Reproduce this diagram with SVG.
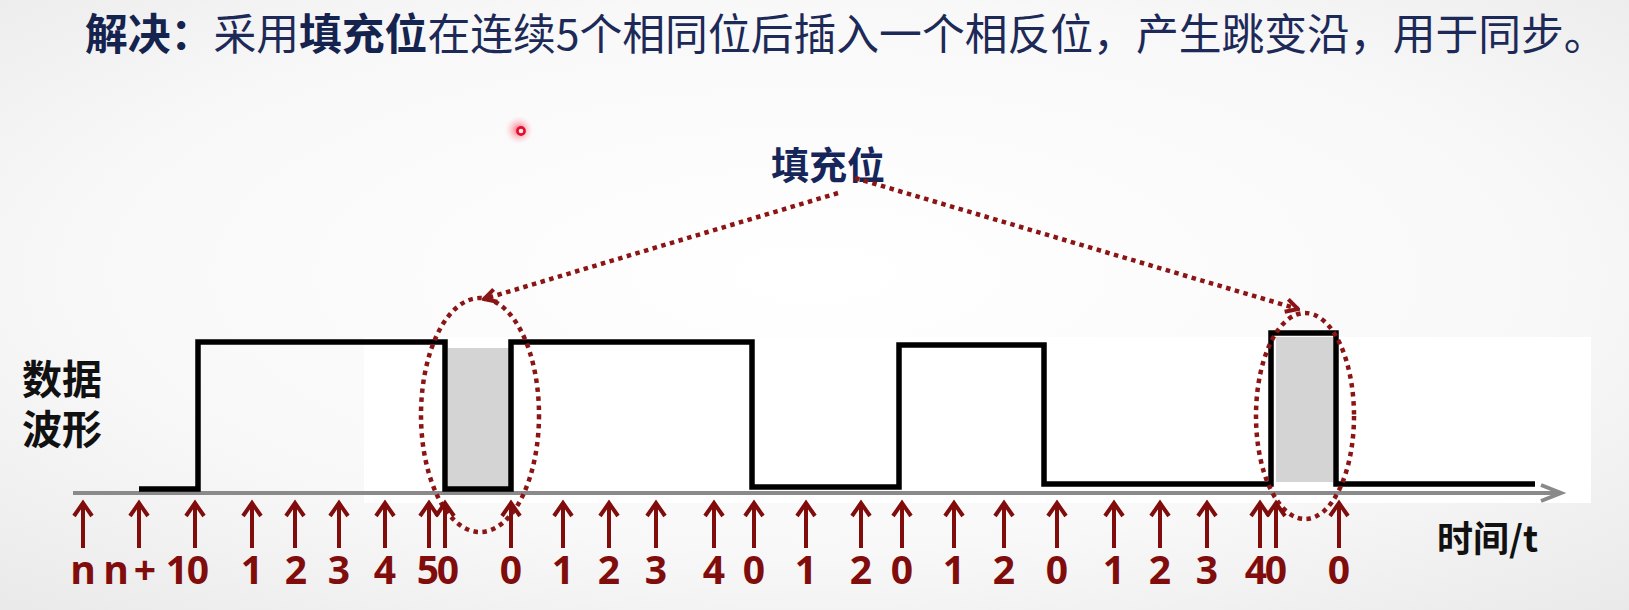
<svg xmlns="http://www.w3.org/2000/svg" xmlns:xlink="http://www.w3.org/1999/xlink" width="1629" height="610" viewBox="0 0 1629 610">
<style>
.title{font-family:"Noto Sans CJK SC","Noto Sans",sans-serif;font-size:42.8px;fill:#1d2a58}
.b{font-weight:700;fill:#15234f}
.lbl{font-family:"Noto Sans CJK SC","Noto Sans",sans-serif;font-weight:700;fill:#111}
.num{font-family:"Open Sans","Noto Sans",sans-serif;font-weight:700;font-size:39px;fill:#800c0c;text-anchor:middle}
.tick{fill:none;stroke:#800c0c;stroke-width:4;stroke-linecap:butt;stroke-linejoin:miter}
.wave{fill:none;stroke:#000;stroke-width:5.5;stroke-linejoin:miter}
.stuff{fill:#d4d4d4}
.dot{fill:none;stroke:#8b1414;stroke-width:4.5;stroke-dasharray:4.5 4.5}
.axis{fill:none;stroke:#8a8a8a;stroke-width:4}
</style>
<defs>
<radialGradient id="bg" cx="50%" cy="45%" r="75%">
<stop offset="0" stop-color="#ffffff"/>
<stop offset="0.6" stop-color="#f8f8f8"/>
<stop offset="1" stop-color="#e9e9e9"/>
</radialGradient>
<radialGradient id="glow">
<stop offset="0" stop-color="#ff3050" stop-opacity="0.9"/>
<stop offset="0.45" stop-color="#ff8090" stop-opacity="0.5"/>
<stop offset="1" stop-color="#ffc0c8" stop-opacity="0"/>
</radialGradient>
<path id="tk" class="tick" d="M0,0 V45 M-9,13 L0,0 L9,13"/>
<marker id="ah" viewBox="0 0 16 16" refX="14" refY="8" markerWidth="16" markerHeight="16" markerUnits="userSpaceOnUse" orient="auto">
<path d="M2,1.5 L14,8 L2,14.5" fill="none" stroke="#8b1414" stroke-width="4"/>
</marker>
</defs>
<rect width="1629" height="610" fill="url(#bg)"/>
<rect x="364" y="337" width="1227" height="166" fill="#fff"/>

<g id="title">
<text class="title" x="85" y="50"><tspan class="b">解决：</tspan>采用<tspan class="b">填充位</tspan>在连续5个相同位后插入一个相反位，产生跳变沿，用于同步。</text>
</g>

<g id="pointer">
<circle cx="519" cy="130" r="14" fill="url(#glow)"/>
<circle cx="521" cy="131" r="3.6" fill="#ffe4e8" stroke="#e0102c" stroke-width="2.6"/>
</g>

<g id="label-waveform">
<text class="lbl" font-size="40"><tspan x="22" y="394">数据</tspan><tspan x="22" y="444">波形</tspan></text>
</g>

<g id="label-fill">
<text class="lbl" x="771" y="179" font-size="38" style="fill:#17265a">填充位</text>
</g>

<g id="label-time">
<text class="lbl" x="1437" y="552" font-size="36">时间/t</text>
</g>

<g id="axis">
<path class="axis" d="M73,493 H1560"/>
<path class="axis" d="M1541,485 L1561,493 L1541,501"/>
</g>

<g id="stuffed-bit-1">
<rect class="stuff" x="448" y="348" width="61" height="140"/>
</g>
<g id="stuffed-bit-2">
<rect class="stuff" x="1276" y="337" width="57" height="145"/>
</g>

<g id="waveform">
<path class="wave" d="M139,489 H198 V342 H445 V489 H511 V342 H752 V487 H899 V345 H1044 V484 H1271 V333 H1336 V484 H1535"/>
</g>

<g id="ellipse-1">
<ellipse class="dot" cx="480" cy="415" rx="59" ry="117"/>
</g>
<g id="ellipse-2">
<ellipse class="dot" cx="1305" cy="416" rx="49" ry="103"/>
</g>

<g id="connectors">
<path class="dot" d="M838,193 L484,299" marker-end="url(#ah)"/>
<path class="dot" d="M855,178 L1298,309" marker-end="url(#ah)"/>
</g>

<g id="ticks">
<use xlink:href="#tk" x="83" y="503"/>
<use xlink:href="#tk" x="139" y="503"/>
<use xlink:href="#tk" x="195" y="503"/>
<use xlink:href="#tk" x="252" y="503"/>
<use xlink:href="#tk" x="295" y="503"/>
<use xlink:href="#tk" x="339" y="503"/>
<use xlink:href="#tk" x="385" y="503"/>
<use xlink:href="#tk" x="429" y="503"/>
<use xlink:href="#tk" x="445" y="503"/>
<use xlink:href="#tk" x="511" y="503"/>
<use xlink:href="#tk" x="563" y="503"/>
<use xlink:href="#tk" x="609" y="503"/>
<use xlink:href="#tk" x="656" y="503"/>
<use xlink:href="#tk" x="714" y="503"/>
<use xlink:href="#tk" x="754" y="503"/>
<use xlink:href="#tk" x="806" y="503"/>
<use xlink:href="#tk" x="861" y="503"/>
<use xlink:href="#tk" x="902" y="503"/>
<use xlink:href="#tk" x="954" y="503"/>
<use xlink:href="#tk" x="1004" y="503"/>
<use xlink:href="#tk" x="1057" y="503"/>
<use xlink:href="#tk" x="1114" y="503"/>
<use xlink:href="#tk" x="1160" y="503"/>
<use xlink:href="#tk" x="1207" y="503"/>
<use xlink:href="#tk" x="1260" y="503"/>
<use xlink:href="#tk" x="1276" y="503"/>
<use xlink:href="#tk" x="1339" y="503"/>
</g>

<g id="tick-labels">
<text class="num" x="83" y="584">n</text>
<text class="num" x="116" y="584">n</text>
<text class="num" x="145" y="584">+</text>
<text class="num" x="177" y="584">1</text>
<text class="num" x="198" y="584">0</text>
<text class="num" x="252" y="584">1</text>
<text class="num" x="296" y="584">2</text>
<text class="num" x="339" y="584">3</text>
<text class="num" x="385" y="584">4</text>
<text class="num" x="428" y="584">5</text>
<text class="num" x="448" y="584">0</text>
<text class="num" x="511" y="584">0</text>
<text class="num" x="563" y="584">1</text>
<text class="num" x="609" y="584">2</text>
<text class="num" x="656" y="584">3</text>
<text class="num" x="714" y="584">4</text>
<text class="num" x="754" y="584">0</text>
<text class="num" x="806" y="584">1</text>
<text class="num" x="861" y="584">2</text>
<text class="num" x="902" y="584">0</text>
<text class="num" x="954" y="584">1</text>
<text class="num" x="1004" y="584">2</text>
<text class="num" x="1057" y="584">0</text>
<text class="num" x="1114" y="584">1</text>
<text class="num" x="1160" y="584">2</text>
<text class="num" x="1207" y="584">3</text>
<text class="num" x="1256" y="584">4</text>
<text class="num" x="1276" y="584">0</text>
<text class="num" x="1339" y="584">0</text>
</g>
</svg>
